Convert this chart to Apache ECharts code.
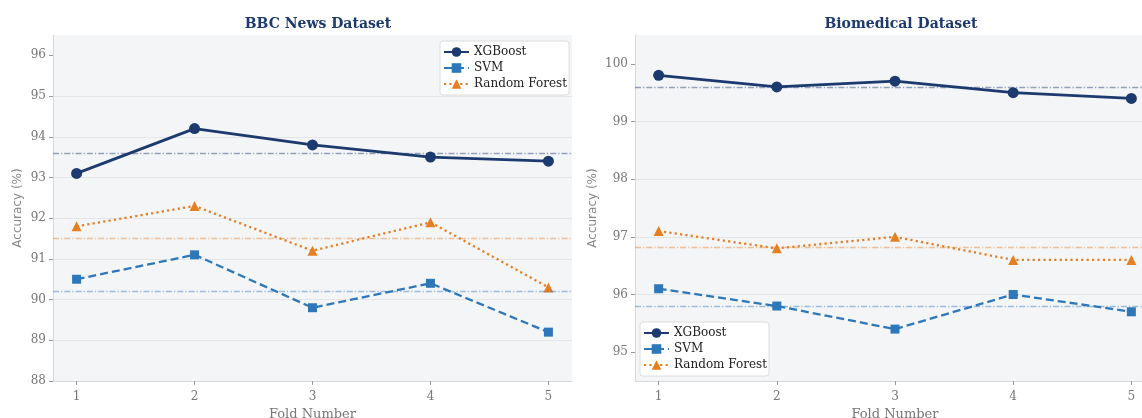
<!DOCTYPE html>
<html>
<head>
<meta charset="utf-8">
<script src="https://cdn.jsdelivr.net/npm/echarts@6/dist/echarts.min.js"></script>
<style>
  html, body { margin: 0; padding: 0; background: #ffffff; }
  #chart { width: 1142px; height: 418px; }
</style>
</head>
<body>
<div id="chart"></div>
<script>
// Cross-validation accuracy per fold, two datasets
const folds = [1, 2, 3, 4, 5];
const modelNames = ['XGBoost', 'SVM', 'Random Forest'];

const bbcXGBoost = [93.1, 94.2, 93.8, 93.5, 93.4];
const bbcSVM = [90.5, 91.1, 89.8, 90.4, 89.2];
const bbcRF = [91.8, 92.3, 91.2, 91.9, 90.3];

const bioXGBoost = [99.8, 99.6, 99.7, 99.5, 99.4];
const bioSVM = [96.1, 95.8, 95.4, 96.0, 95.7];
const bioRF = [97.1, 96.8, 97.0, 96.6, 96.6];

const panelTitles = ['BBC News Dataset', 'Biomedical Dataset'];
const yTicksBBC = [88, 89, 90, 91, 92, 93, 94, 95, 96];
const yTicksBio = [95, 96, 97, 98, 99, 100];

const COLORS = { 'XGBoost': '#1c3a6e', 'SVM': '#2e78b9', 'Random Forest': '#e67e22' };
const SERIF = '"DejaVu Serif", "Liberation Serif", serif';
const SANS = '"DejaVu Sans", sans-serif';

const STYLE = {
  'XGBoost': { symbol: 'circle', symbolSize: 11, width: 2.8, type: 'solid' },
  'SVM': { symbol: 'rect', symbolSize: 9, width: 2.3, type: [8, 4] },
  'Random Forest': { symbol: 'triangle', symbolSize: 10, width: 2.3, type: [2.2, 3.2] }
};

function mean(a) { return a.reduce((s, v) => s + v, 0) / a.length; }

function hexToRgba(hex, a) {
  const n = parseInt(hex.slice(1), 16);
  return 'rgba(' + ((n >> 16) & 255) + ',' + ((n >> 8) & 255) + ',' + (n & 255) + ',' + a + ')';
}

function makeSeries(name, values, idx) {
  const st = STYLE[name];
  const c = COLORS[name];
  return {
    name: name,
    type: 'line',
    xAxisIndex: idx,
    yAxisIndex: idx,
    data: folds.map((f, i) => [f, values[i]]),
    symbol: st.symbol,
    symbolSize: st.symbolSize,
    showSymbol: true,
    lineStyle: { color: c, width: st.width, type: st.type },
    itemStyle: { color: c },
    z: 3,
    markLine: {
      silent: true,
      symbol: 'none',
      label: { show: false },
      lineStyle: { color: hexToRgba(c, 0.45), width: 1.3, type: [6, 2, 1.3, 2] },
      data: [{ yAxis: mean(values) }]
    }
  };
}

// the right-hand panel runs past the canvas edge and is cut off there
const grids = [
  { left: 53, top: 35, width: 519, height: 346 },
  { left: 635, top: 35, width: 520, height: 346 }
];

function xAxisFor(idx) {
  return {
    type: 'value', gridIndex: idx, min: 0.8, max: 5.2,
    name: 'Fold Number', nameLocation: 'middle', nameGap: 23,
    nameTextStyle: { fontFamily: SERIF, fontSize: 13, color: '#777' },
    axisLine: { show: true, lineStyle: { color: '#d6d8dc', width: 1 } },
    axisTick: { show: true, length: 4, customValues: folds, lineStyle: { color: '#999' } },
    axisLabel: { customValues: folds, fontFamily: SERIF, fontSize: 12, color: '#777', margin: 10 },
    splitLine: { show: false }
  };
}

function yAxisFor(idx, min, max, ticks, gap) {
  return {
    type: 'value', gridIndex: idx, min: min, max: max, interval: 1,
    name: 'Accuracy (%)', nameLocation: 'middle', nameGap: gap,
    nameTextStyle: { fontFamily: SANS, fontSize: 12, color: '#888' },
    axisLine: { show: true, lineStyle: { color: '#d6d8dc', width: 1 } },
    axisTick: { show: true, length: 4, customValues: ticks, lineStyle: { color: '#999' } },
    axisLabel: { customValues: ticks, fontFamily: SERIF, fontSize: 12, color: '#777', margin: 7 },
    splitLine: { show: true, showMinLine: false, showMaxLine: false, lineStyle: { color: '#e3e5e8', width: 1 } }
  };
}

function legendFor(pos) {
  return Object.assign({
    data: modelNames,
    orient: 'vertical',
    backgroundColor: '#ffffff',
    borderColor: '#dcdcdc',
    borderWidth: 1,
    borderRadius: 3,
    padding: [5, 2, 5, 3],
    itemGap: 4,
    itemWidth: 25,
    itemHeight: 12,
    textStyle: { fontFamily: SERIF, fontSize: 12, color: '#222' },
    selectedMode: false
  }, pos);
}

const option = {
  backgroundColor: '#ffffff',
  animation: false,
  title: [
    { text: panelTitles[0], left: 313, top: 12, textAlign: 'center',
      textStyle: { fontFamily: SERIF, fontSize: 14, fontWeight: 'bold', color: '#1c3a6e' } },
    { text: panelTitles[1], left: 896, top: 12, textAlign: 'center',
      textStyle: { fontFamily: SERIF, fontSize: 14, fontWeight: 'bold', color: '#1c3a6e' } }
  ],
  grid: grids.map(g => Object.assign({
    show: true, backgroundColor: '#f4f5f7', borderWidth: 0, outerBoundsMode: 'none'
  }, g)),
  xAxis: [xAxisFor(0), xAxisFor(1)],
  yAxis: [yAxisFor(0, 88, 96.5, yTicksBBC, 29), yAxisFor(1, 94.5, 100.5, yTicksBio, 36)],
  legend: [
    legendFor({ left: 440, top: 41 }),
    legendFor({ left: 640, top: 322 })
  ],
  series: [
    makeSeries('XGBoost', bbcXGBoost, 0),
    makeSeries('SVM', bbcSVM, 0),
    makeSeries('Random Forest', bbcRF, 0),
    makeSeries('XGBoost', bioXGBoost, 1),
    makeSeries('SVM', bioSVM, 1),
    makeSeries('Random Forest', bioRF, 1)
  ]
};

const chart = echarts.init(document.getElementById('chart'), null, { renderer: 'canvas' });
chart.setOption(option);
</script>
</body>
</html>
